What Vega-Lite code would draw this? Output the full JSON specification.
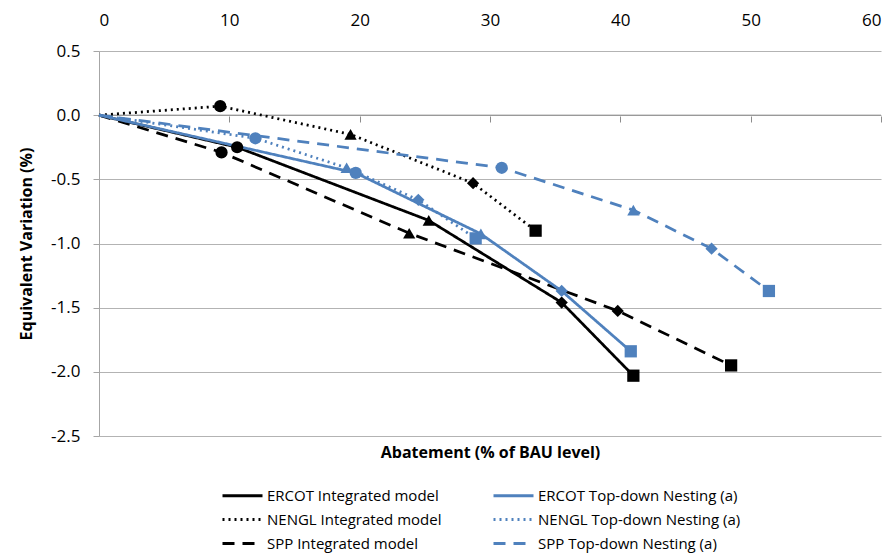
{
  "$schema": "https://vega.github.io/schema/vega-lite/v6.json",
  "width": 782,
  "height": 385,
  "autosize": {"type": "none"},
  "padding": {"left": 99, "top": 51, "right": 13, "bottom": 122},
  "background": "white",
  "config": {
    "font": "Open Sans",
    "view": {"stroke": null},
    "axis": {"labelColor": "#000000", "titleColor": "#000000", "labelFont": "Open Sans", "titleFont": "Open Sans"},
    "legend": {"labelFont": "Open Sans"}
  },
  "data": {
    "values": [
      {"series": "ERCOT Integrated model", "x": 0, "y": 0, "marker": "none"},
      {"series": "ERCOT Integrated model", "x": 10.6, "y": -0.25, "marker": "circle"},
      {"series": "ERCOT Integrated model", "x": 25.3, "y": -0.82, "marker": "triangle"},
      {"series": "ERCOT Integrated model", "x": 35.5, "y": -1.46, "marker": "diamond"},
      {"series": "ERCOT Integrated model", "x": 41.0, "y": -2.03, "marker": "square"},
      {"series": "NENGL Integrated model", "x": 0, "y": 0, "marker": "none"},
      {"series": "NENGL Integrated model", "x": 9.3, "y": 0.07, "marker": "circle"},
      {"series": "NENGL Integrated model", "x": 19.3, "y": -0.15, "marker": "triangle"},
      {"series": "NENGL Integrated model", "x": 28.7, "y": -0.53, "marker": "diamond"},
      {"series": "NENGL Integrated model", "x": 33.5, "y": -0.9, "marker": "square"},
      {"series": "SPP  Integrated model", "x": 0, "y": 0, "marker": "none"},
      {"series": "SPP  Integrated model", "x": 9.4, "y": -0.29, "marker": "circle"},
      {"series": "SPP  Integrated model", "x": 23.8, "y": -0.92, "marker": "triangle"},
      {"series": "SPP  Integrated model", "x": 39.8, "y": -1.525, "marker": "diamond"},
      {"series": "SPP  Integrated model", "x": 48.5, "y": -1.95, "marker": "square"},
      {"series": "ERCOT  Top-down Nesting (a)", "x": 0, "y": 0, "marker": "none"},
      {"series": "ERCOT  Top-down Nesting (a)", "x": 19.7, "y": -0.45, "marker": "circle"},
      {"series": "ERCOT  Top-down Nesting (a)", "x": 29.3, "y": -0.925, "marker": "triangle"},
      {"series": "ERCOT  Top-down Nesting (a)", "x": 35.5, "y": -1.37, "marker": "diamond"},
      {"series": "ERCOT  Top-down Nesting (a)", "x": 40.8, "y": -1.84, "marker": "square"},
      {"series": "NENGL Top-down Nesting (a)", "x": 0, "y": 0, "marker": "none"},
      {"series": "NENGL Top-down Nesting (a)", "x": 12.0, "y": -0.18, "marker": "circle"},
      {"series": "NENGL Top-down Nesting (a)", "x": 19.0, "y": -0.41, "marker": "triangle"},
      {"series": "NENGL Top-down Nesting (a)", "x": 24.5, "y": -0.66, "marker": "diamond"},
      {"series": "NENGL Top-down Nesting (a)", "x": 28.9, "y": -0.96, "marker": "square"},
      {"series": "SPP Top-down Nesting (a)", "x": 0, "y": 0, "marker": "none"},
      {"series": "SPP Top-down Nesting (a)", "x": 30.9, "y": -0.41, "marker": "circle"},
      {"series": "SPP Top-down Nesting (a)", "x": 41.0, "y": -0.74, "marker": "triangle"},
      {"series": "SPP Top-down Nesting (a)", "x": 47.0, "y": -1.04, "marker": "diamond"},
      {"series": "SPP Top-down Nesting (a)", "x": 51.4, "y": -1.37, "marker": "square"}
    ]
  },
  "resolve": {"axis": {"x": "independent"}},
  "layer": [
    {
      "data": {"values": [{"zero": 0}]},
      "mark": {"type": "rule", "color": "#8c8c8c", "strokeWidth": 1},
      "encoding": {
        "x": {"datum": 0, "type": "quantitative", "scale": {"domain": [0, 60], "nice": false},
          "axis": {"orient": "bottom", "offset": -320, "labels": false, "domain": false, "ticks": true, "tickSize": 6, "tickColor": "#8c8c8c", "grid": false, "title": null, "values": [0, 10, 20, 30, 40, 50, 60]}},
        "x2": {"datum": 60},
        "y": {"field": "zero", "type": "quantitative", "scale": {"domain": [-2.5, 0.5], "nice": false, "zero": false},
          "axis": {"title": "Equivalent Variation (%)", "values": [-2.5, -2, -1.5, -1, -0.5, 0, 0.5], "labelExpr": "replace(format(datum.value, '.1f'), '\u2212', '-')", "labelFontSize": 17, "titleFontSize": 16, "titleFontWeight": "bold", "titlePadding": 16, "tickSize": 6, "labelPadding": 13, "domainColor": "#a6a6a6", "tickColor": "#a6a6a6", "gridColor": "#b3b3b3", "grid": true}}
      }
    },
    {
      "mark": {"type": "line", "strokeWidth": 2.75},
      "encoding": {
        "x": {"field": "x", "type": "quantitative",
          "axis": {"orient": "top", "offset": 20, "labelPadding": 2, "ticks": false, "tickSize": 0, "domain": false, "grid": false, "title": null, "values": [0, 10, 20, 30, 40, 50, 60], "labelFontSize": 17}},
        "y": {"field": "y", "type": "quantitative",
          "axis": {"title": "Equivalent Variation (%)", "values": [-2.5, -2, -1.5, -1, -0.5, 0, 0.5], "labelExpr": "replace(format(datum.value, '.1f'), '\u2212', '-')", "labelFontSize": 17, "titleFontSize": 16, "titleFontWeight": "bold", "titlePadding": 16, "tickSize": 6, "labelPadding": 13, "domainColor": "#a6a6a6", "tickColor": "#a6a6a6", "gridColor": "#b3b3b3", "grid": true}},
        "color": {"field": "series", "type": "nominal",
          "scale": {"domain": ["ERCOT Integrated model", "NENGL Integrated model", "SPP  Integrated model", "ERCOT  Top-down Nesting (a)", "NENGL Top-down Nesting (a)", "SPP Top-down Nesting (a)"],
            "range": ["#000000", "#000000", "#000000", "#4F81BD", "#4F81BD", "#4F81BD"]},
          "legend": {"orient": "none", "legendX": 136, "legendY": 437, "columns": 2, "title": null, "symbolType": "M-4,0H4", "symbolSize": 100, "symbolStrokeWidth": 3, "labelFontSize": 15, "labelLimit": 300, "labelOffset": 17, "rowPadding": 8, "columnPadding": 45, "labelColor": "#000000"}},
        "strokeDash": {"field": "series", "type": "nominal",
          "scale": {"domain": ["ERCOT Integrated model", "NENGL Integrated model", "SPP  Integrated model", "ERCOT  Top-down Nesting (a)", "NENGL Top-down Nesting (a)", "SPP Top-down Nesting (a)"],
            "range": [[1, 0], [2, 4], [12, 8], [1, 0], [2, 4], [12, 8]]},
          "legend": {"orient": "none", "legendX": 136, "legendY": 437, "columns": 2, "title": null, "symbolType": "M-4,0H4", "symbolSize": 100, "symbolStrokeWidth": 3, "labelFontSize": 15, "labelLimit": 300, "labelOffset": 17, "rowPadding": 8, "columnPadding": 45, "labelColor": "#000000"}}
      }
    },
    {
      "transform": [{"filter": "datum.marker != 'none'"}],
      "mark": {"type": "point", "filled": true, "opacity": 1, "size": 150},
      "encoding": {
        "x": {"field": "x", "type": "quantitative",
          "axis": {"orient": "bottom", "labels": false, "ticks": false, "domain": false, "grid": false, "title": "Abatement (% of BAU level)", "titleFontSize": 16, "titleFontWeight": "bold", "titlePadding": 8}},
        "y": {"field": "y", "type": "quantitative",
          "axis": {"title": "Equivalent Variation (%)", "values": [-2.5, -2, -1.5, -1, -0.5, 0, 0.5], "labelExpr": "replace(format(datum.value, '.1f'), '\u2212', '-')", "labelFontSize": 17, "titleFontSize": 16, "titleFontWeight": "bold", "titlePadding": 16, "tickSize": 6, "labelPadding": 13, "domainColor": "#a6a6a6", "tickColor": "#a6a6a6", "gridColor": "#b3b3b3", "grid": true}},
        "color": {"field": "series", "type": "nominal", "legend": null},
        "shape": {"field": "marker", "type": "nominal",
          "scale": {"domain": ["circle", "triangle", "diamond", "square"], "range": ["circle", "triangle-up", "diamond", "square"]},
          "legend": null}
      }
    }
  ]
}
